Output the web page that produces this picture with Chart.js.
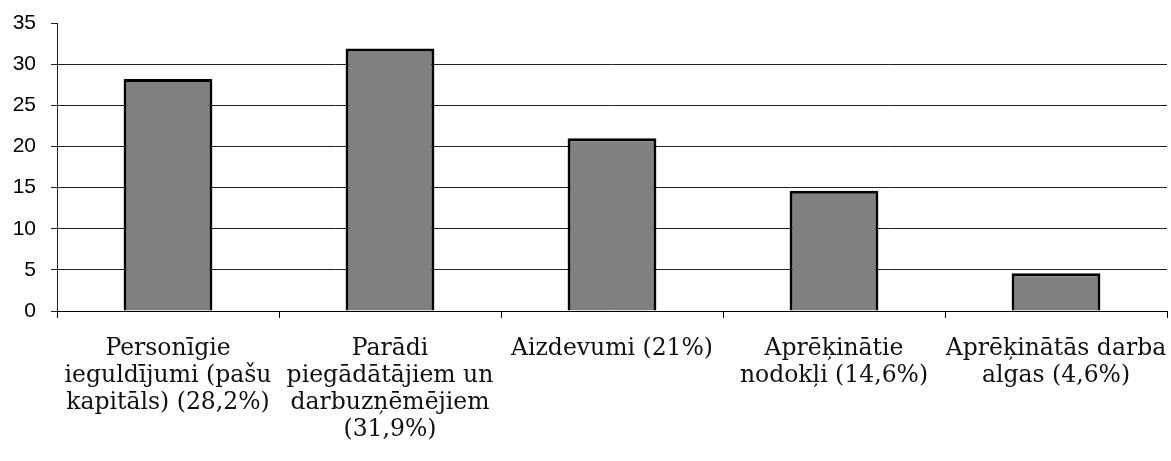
<!DOCTYPE html>
<html>
<head>
<meta charset="utf-8">
<script src="https://cdn.jsdelivr.net/npm/chart.js@4"></script>
<style>
  html, body { margin: 0; padding: 0; background: #fff; }
  #wrap { width: 1171px; height: 461px; position: relative; }
</style>
</head>
<body>
<div id="wrap"><canvas id="chart"></canvas></div>
<script>
// categories (split into lines as in the picture)
const categories = [
  ["Personīgie", "ieguldījumi (pašu", "kapitāls) (28,2%)"],
  ["Parādi", "piegādātājiem un", "darbuzņēmējiem", "(31,9%)"],
  ["Aizdevumi (21%)"],
  ["Aprēķinātie", "nodokļi (14,6%)"],
  ["Aprēķinātās darba", "algas (4,6%)"]
];
const values = [28.2, 31.9, 21, 14.6, 4.6];
const yTicks = [0, 5, 10, 15, 20, 25, 30, 35];

const ctx = document.getElementById("chart").getContext("2d");
new Chart(ctx, {
  type: "bar",
  data: {
    labels: categories,
    datasets: [{
      data: values,
      backgroundColor: "#808080",
      borderColor: "#000",
      borderWidth: 3,
      categoryPercentage: 1,
      barPercentage: 0.4
    }]
  },
  options: {
    responsive: true,
    maintainAspectRatio: false,
    animation: false,
    layout: { padding: { top: 23, right: 4, left: 0, bottom: 0 } },
    plugins: {
      legend: { display: false },
      tooltip: { enabled: false }
    },
    scales: {
      x: {
        grid: {
          offset: true,
          drawOnChartArea: false,
          drawTicks: true,
          tickLength: 7,
          tickColor: "#000"
        },
        border: { display: true, color: "#000", width: 1 },
        ticks: {
          color: "#111",
          maxRotation: 0,
          autoSkip: false,
          padding: 17,
          font: { family: "DejaVu Serif", size: 23.5, lineHeight: 1.15 }
        },
        afterFit: (scale) => {
          scale.height = 150;
          scale.paddingLeft = 0;
          scale.paddingRight = 0;
        }
      },
      y: {
        min: 0,
        max: 35,
        afterBuildTicks: (scale) => {
          scale.ticks = yTicks.map(v => ({ value: v }));
        },
        grid: {
          color: (c) => (c.tick && c.tick.value === 35 ? "rgba(0,0,0,0)" : "#222"),
          tickColor: "#222",
          tickLength: 6,
          lineWidth: 1
        },
        border: { display: true, color: "#222", width: 1 },
        ticks: {
          color: "#000",
          padding: 15,
          font: { family: "Liberation Sans", size: 21 }
        },
        afterFit: (scale) => {
          scale.width = 57;
          scale.paddingTop = 0;
          scale.paddingBottom = 0;
        }
      }
    }
  }
});
</script>
</body>
</html>
